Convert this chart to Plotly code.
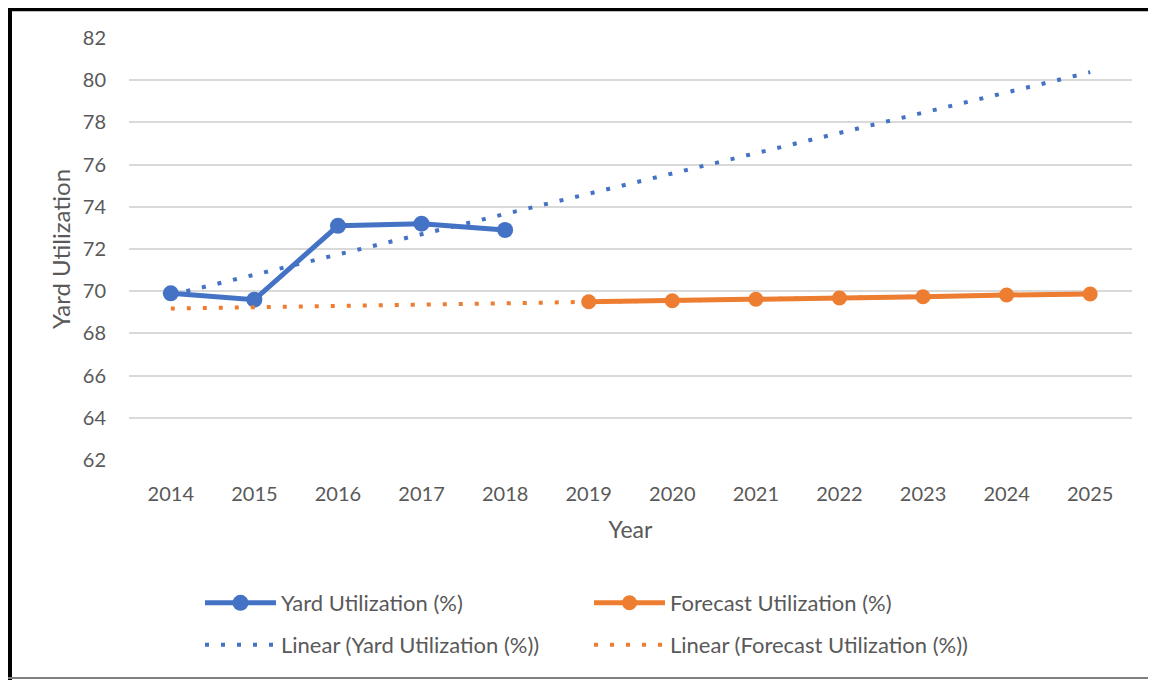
import numpy as np
import plotly.graph_objects as go

years = ["2014", "2015", "2016", "2017", "2018", "2019", "2020", "2021", "2022", "2023", "2024", "2025"]
yard_years = ["2014", "2015", "2016", "2017", "2018"]
yard_util = [69.9, 69.6, 73.1, 73.2, 72.9]
fc_years = ["2019", "2020", "2021", "2022", "2023", "2024", "2025"]
fc_util = [69.50, 69.55, 69.62, 69.68, 69.74, 69.82, 69.87]

BLUE = "#4472C4"
ORANGE = "#ED7D31"
TXT = "#595959"
FONT = "Lato, 'Open Sans', sans-serif"

# Linear trendlines (least squares, as Excel does)
idx = {y: i for i, y in enumerate(years)}
yx = np.array([idx[y] for y in yard_years])
by, ay = np.polyfit(yx, yard_util, 1)
yard_tr_x = [years[0], years[-1]]
yard_tr_y = [ay + by * idx[years[0]], ay + by * idx[years[-1]]]

fx = np.array([idx[y] for y in fc_years])
bf, af = np.polyfit(fx, fc_util, 1)
fc_tr_x = [years[0], years[-1]]
fc_tr_y = [af + bf * idx[years[0]], af + bf * idx[years[-1]]]

fig = go.Figure()
fig.add_trace(go.Scatter(x=yard_years, y=yard_util, mode="lines+markers", name="Yard Utilization (%)",
                         line=dict(color=BLUE, width=5), marker=dict(size=16, color=BLUE),
                         legend="legend", legendrank=1))
fig.add_trace(go.Scatter(x=fc_years, y=fc_util, mode="lines+markers", name="Forecast Utilization (%)",
                         line=dict(color=ORANGE, width=5), marker=dict(size=15, color=ORANGE),
                         legend="legend", legendrank=2))
fig.add_trace(go.Scatter(x=yard_tr_x, y=yard_tr_y, mode="lines", name="Linear (Yard Utilization (%))",
                         line=dict(color=BLUE, width=4, dash="4px,12px"),
                         legend="legend2", legendrank=1))
fig.add_trace(go.Scatter(x=fc_tr_x, y=fc_tr_y, mode="lines", name="Linear (Forecast Utilization (%))",
                         line=dict(color=ORANGE, width=4, dash="4px,12px"),
                         legend="legend2", legendrank=2))

# page body has an 8px margin; work in figure pixels = screen pixels - 8
OFF = 8
W, H = 1148, 672
L, T = 129 - OFF, 38 - OFF
R = W - (1132 - OFF)
B = H - (460 - OFF)
pw, ph = W - L - R, H - T - B


def px(x):
    return (x - OFF - L) / pw


def py(y):
    return (H - B - (y - OFF)) / ph


shapes = [
    dict(type="line", xref="paper", yref="paper", x0=px(10), x1=px(10), y0=py(5), y1=py(690),
         line=dict(color="black", width=4)),
    dict(type="line", xref="paper", yref="paper", x0=px(6), x1=px(1170), y0=py(9.5), y1=py(9.5),
         line=dict(color="black", width=3.5)),
    dict(type="line", xref="paper", yref="paper", x0=px(8), x1=px(1170), y0=py(678), y1=py(678),
         line=dict(color="#7f7f7f", width=2)),
]

leg_common = dict(orientation="h", xanchor="left", yanchor="middle",
                  entrywidth=303, entrywidthmode="pixels", itemwidth=71,
                  traceorder="normal", font=dict(size=22, color=TXT, family=FONT),
                  bgcolor="rgba(0,0,0,0)")

fig.update_layout(
    width=W, height=H,
    margin=dict(l=L, r=R, t=T, b=B),
    paper_bgcolor="white", plot_bgcolor="white",
    font=dict(family=FONT, color=TXT, size=20),
    shapes=shapes,
    showlegend=True,
    legend=dict(x=px(200), y=py(603), **leg_common),
    legend2=dict(x=px(200), y=py(645), **leg_common),
    xaxis=dict(type="category", categoryorder="array", categoryarray=years,
               range=[-0.5, len(years) - 0.5], showgrid=False, showline=False, ticks="",
               ticklabelstandoff=20,
               tickfont=dict(size=20, color=TXT),
               title=dict(text="Year", font=dict(size=23, color=TXT), standoff=17)),
    yaxis=dict(range=[62, 82], dtick=2, tick0=62, showgrid=True, gridcolor="#D9D9D9", gridwidth=2,
               zeroline=False, showline=False, ticks="", ticklabelstandoff=22,
               tickfont=dict(size=20, color=TXT),
               title=dict(text="Yard Utilization", font=dict(size=24, color=TXT), standoff=5)),
)

fig.write_html("out.html")
